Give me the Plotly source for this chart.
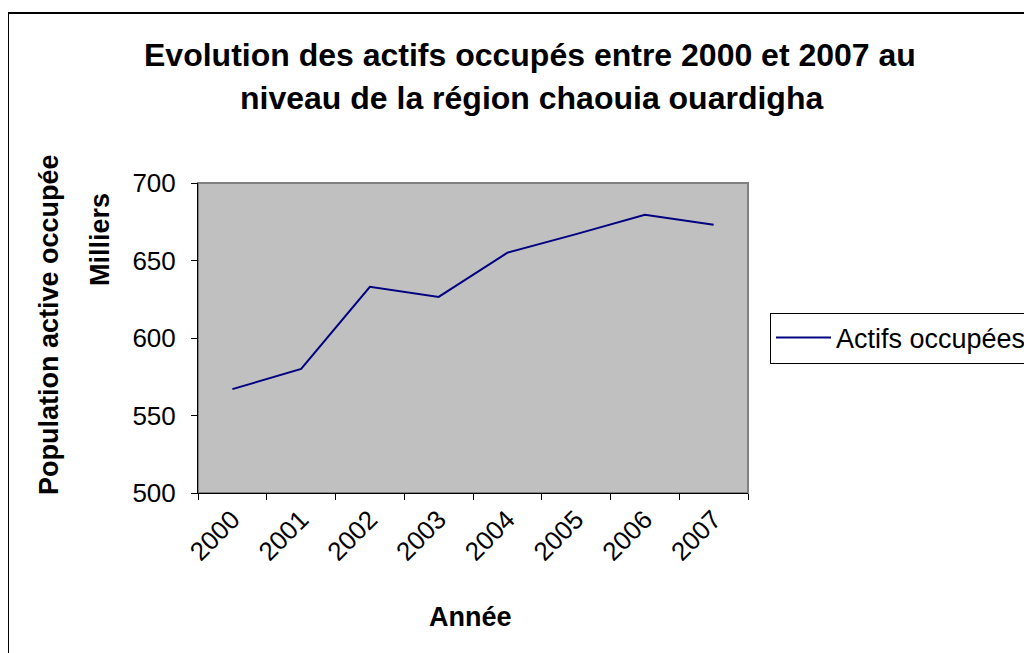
import plotly.graph_objects as go

years = ["2000", "2001", "2002", "2003", "2004", "2005", "2006", "2007"]
actifs = [567, 580, 633, 626.5, 655, 667, 679.5, 673]
y_ticks = [500, 550, 600, 650, 700]

W, H = 1032, 653
OFF = 8  # page body margin
# plot area in page pixels
PL, PR, PT, PB = 198, 748, 183, 493
L, R, T, B = PL - OFF, PR - OFF, PT - OFF, PB - OFF


def px_x(p):
    return (p - OFF - L) / (R - L)


def px_y(p):
    return (B - (p - OFF)) / (B - T)


font = "Liberation Sans, Arial, sans-serif"

fig = go.Figure()
fig.add_trace(go.Scatter(
    x=years, y=actifs, mode="lines", name="Actifs occupées",
    line=dict(color="#000080", width=2),
))

fig.update_layout(
    width=W, height=H,
    margin=dict(l=L, r=W - R, t=T, b=H - B, autoexpand=False),
    paper_bgcolor="white",
    plot_bgcolor="#C0C0C0",
    font=dict(family=font, size=26, color="black"),
    showlegend=True,
    legend=dict(
        x=px_x(770), xanchor="left", y=px_y(338), yanchor="middle",
        bordercolor="black", borderwidth=1, bgcolor="white",
        itemwidth=55,
        font=dict(size=27, family=font),
    ),
    xaxis=dict(
        type="category", range=[-0.5, 7.5], tickson="boundaries",
        ticks="outside", ticklen=6, tickcolor="black", tickwidth=1,
        showline=True, linecolor="black", linewidth=1,
        showgrid=False, tickangle=-45, zeroline=False,
        tickfont=dict(size=26, family=font),
    ),
    yaxis=dict(
        range=[500, 700], tickvals=y_ticks,
        ticks="outside", ticklen=6, tickcolor="black", tickwidth=1,
        showline=True, linecolor="black", linewidth=1,
        showgrid=False, zeroline=False, ticklabelstandoff=10,
        tickfont=dict(size=26, family=font),
    ),
    shapes=[
        dict(type="rect", xref="paper", yref="paper", x0=0, x1=1, y0=0, y1=1,
             line=dict(color="#808080", width=2), layer="below"),
        dict(type="rect", xref="paper", yref="paper",
             x0=px_x(8), x1=px_x(1080), y0=px_y(700), y1=px_y(13),
             line=dict(color="black", width=2)),
    ],
    annotations=[
        dict(text="<b>Evolution des actifs occupés entre 2000 et 2007 au</b>",
             xref="paper", yref="paper", x=px_x(530), y=px_y(55),
             xanchor="center", yanchor="middle", showarrow=False,
             font=dict(size=32, family=font)),
        dict(text="<b>niveau de la région chaouia ouardigha</b>",
             xref="paper", yref="paper", x=px_x(531), y=px_y(98),
             xanchor="center", yanchor="middle", showarrow=False,
             font=dict(size=32, family=font)),
        dict(text="<b>Population active occupée</b>",
             xref="paper", yref="paper", x=px_x(49), y=px_y(325),
             xanchor="center", yanchor="middle", showarrow=False, textangle=-90,
             font=dict(size=27, family=font)),
        dict(text="<b>Milliers</b>",
             xref="paper", yref="paper", x=px_x(100), y=px_y(240),
             xanchor="center", yanchor="middle", showarrow=False, textangle=-90,
             font=dict(size=27, family=font)),
        dict(text="<b>Année</b>",
             xref="paper", yref="paper", x=px_x(470), y=px_y(617),
             xanchor="center", yanchor="middle", showarrow=False,
             font=dict(size=27, family=font)),
    ],
)

fig.write_html("out.html")
